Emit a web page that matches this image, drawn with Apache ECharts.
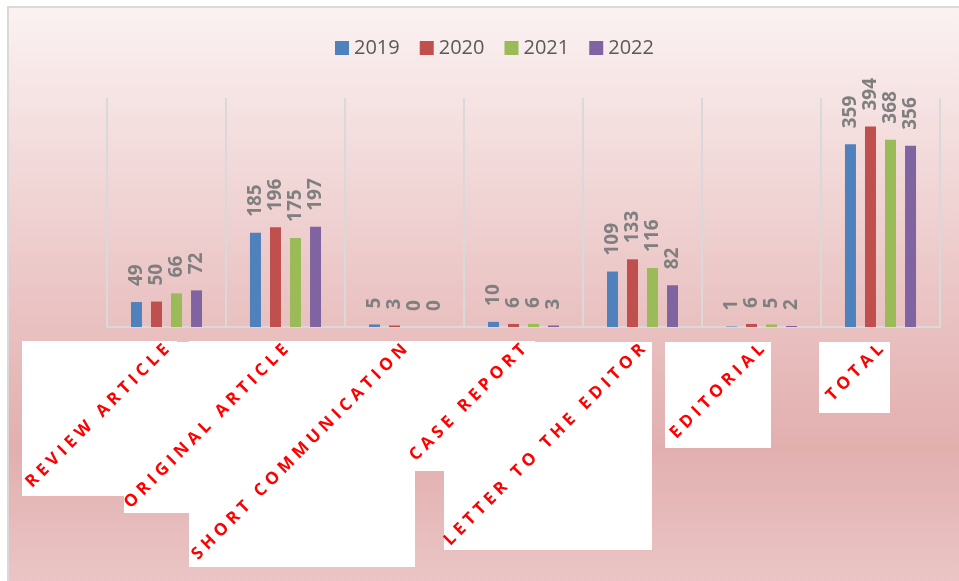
<!DOCTYPE html>
<html>
<head>
<meta charset="utf-8">
<script src="https://cdn.jsdelivr.net/npm/echarts@6/dist/echarts.min.js"></script>
<style>
  html, body { margin: 0; padding: 0; background: #fff; }
  #chart { width: 959px; height: 581px; }
</style>
</head>
<body>
<div id="chart"></div>
<script>
const categories = ['REVIEW ARTICLE', 'ORIGINAL ARTICLE', 'SHORT COMMUNICATION', 'CASE REPORT',
    'LETTER TO THE EDITOR', 'EDITORIAL', 'TOTAL'];
const years = ['2019', '2020', '2021', '2022'];
const values2019 = [49, 185, 5, 10, 109, 1, 359];
const values2020 = [50, 196, 3, 6, 133, 6, 394];
const values2021 = [66, 175, 0, 6, 116, 5, 368];
const values2022 = [72, 197, 0, 3, 82, 2, 356];
const colors = ['#4f81bd', '#c0504d', '#9bbb59', '#8064a2'];

// white boxes behind the category labels, as in the original picture
const labelBoxes = [
    [22, 341, 155, 155],
    [124, 342, 65, 171],
    [189, 341, 226, 226],
    [415, 341, 120, 130],
    [444, 342, 208, 208],
    [665, 342, 106, 106],
    [819, 342, 71, 71]
];

(function () {
    const chart = echarts.init(document.getElementById('chart'));
    // the original labels are letter-spaced
    const spaced = s => s.split('').join('\u200A\u2009');

    const barLabel = {
        show: true,
        position: 'top',
        rotate: 90,
        align: 'left',
        verticalAlign: 'middle',
        distance: 16,
        color: '#7f7f7f',
        fontFamily: 'Open Sans',
        fontWeight: 'bold',
        fontSize: 19
    };

    const graphics = [
        {
            type: 'rect',
            z: -10,
            silent: true,
            shape: { x: 8, y: 7, width: 960, height: 580 },
            style: {
                stroke: '#d9d9d9',
                lineWidth: 2,
                fill: new echarts.graphic.LinearGradient(0, 0, 0, 1, [
                    { offset: 0, color: '#fbf2f2' },
                    { offset: 0.15, color: '#f6e4e4' },
                    { offset: 0.55, color: '#e9c0c0' },
                    { offset: 0.76, color: '#e2afaf' },
                    { offset: 1, color: '#ebc6c6' }
                ])
            }
        }
    ].concat(labelBoxes.map(b => ({
        type: 'rect',
        z: -5,
        silent: true,
        shape: { x: b[0], y: b[1], width: b[2], height: b[3] },
        style: { fill: '#ffffff' }
    })));

    const options = {
        animation: false,
        graphic: graphics,
        color: colors,
        legend: {
            data: years,
            top: 33,
            left: 330,
            itemWidth: 14,
            itemHeight: 14,
            itemGap: 20,
            icon: 'rect',
            textStyle: {
                color: '#595959',
                fontSize: 20,
                fontFamily: 'Open Sans'
            }
        },
        grid: {
            left: 107,
            right: 19,
            top: 98,
            bottom: 254
        },
        xAxis: {
            type: 'category',
            data: categories,
            axisLine: { lineStyle: { color: '#d9d9d9', width: 2 } },
            axisTick: { show: false },
            splitLine: { show: true, lineStyle: { color: '#d9d9d9', width: 2 } },
            axisLabel: {
                interval: 0,
                rotate: 45,
                margin: 20,
                color: '#ff0000',
                fontFamily: 'Open Sans',
                fontWeight: 'bold',
                fontSize: 17,
                formatter: spaced
            }
        },
        yAxis: {
            type: 'value',
            min: 0,
            max: 450,
            show: false,
            splitLine: { show: false }
        },
        series: [values2019, values2020, values2021, values2022].map((vals, i) => ({
            name: years[i],
            type: 'bar',
            data: vals,
            barWidth: 11,
            barGap: '82%',
            label: barLabel
        }))
    };

    chart.setOption(options);
})();
</script>
</body>
</html>
